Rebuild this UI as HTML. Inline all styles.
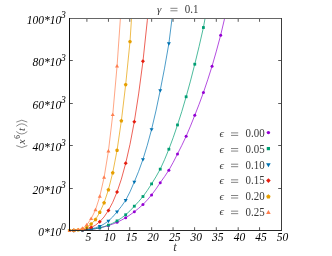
<!DOCTYPE html>
<html><head><meta charset="utf-8"><style>
html,body{margin:0;padding:0;background:#fff;}
svg{display:block;will-change:transform}
text{font-family:"Liberation Serif",serif;}
</style></head><body>
<svg width="332" height="256" viewBox="0 0 332 256">
<rect width="332" height="256" fill="#fff"/>
<g>
<path d="M69.55 230.49L73.87 230.45L78.19 230.33L82.50 230.13L86.82 229.81L91.14 229.35L95.46 228.72L99.78 227.90L104.09 226.87L108.41 225.60L112.73 224.08L117.05 222.27L121.37 220.16L125.68 217.71L130.00 214.92L134.32 211.76L138.64 208.33L142.96 204.54L147.27 199.99L151.59 194.92L155.91 189.12L160.23 182.69L164.55 176.64L168.86 170.16L173.18 162.37L177.50 153.92L181.82 145.39L186.14 136.28L190.45 126.15L194.77 115.33L199.09 104.28L203.41 92.57L207.73 79.77L212.04 66.21L216.36 51.14L220.68 35.14L224.58 18.50" fill="none" stroke="#9400d3" stroke-width="0.7"/>
<circle cx="73.87" cy="230.45" r="1.50" fill="#9400d3"/>
<circle cx="82.50" cy="230.13" r="1.50" fill="#9400d3"/>
<circle cx="91.14" cy="229.35" r="1.50" fill="#9400d3"/>
<circle cx="99.78" cy="227.90" r="1.50" fill="#9400d3"/>
<circle cx="108.41" cy="225.60" r="1.50" fill="#9400d3"/>
<circle cx="117.05" cy="222.27" r="1.50" fill="#9400d3"/>
<circle cx="125.68" cy="217.71" r="1.50" fill="#9400d3"/>
<circle cx="134.32" cy="211.76" r="1.50" fill="#9400d3"/>
<circle cx="142.96" cy="204.54" r="1.50" fill="#9400d3"/>
<circle cx="151.59" cy="194.92" r="1.50" fill="#9400d3"/>
<circle cx="160.23" cy="182.69" r="1.50" fill="#9400d3"/>
<circle cx="168.86" cy="170.16" r="1.50" fill="#9400d3"/>
<circle cx="177.50" cy="153.92" r="1.50" fill="#9400d3"/>
<circle cx="186.14" cy="136.28" r="1.50" fill="#9400d3"/>
<circle cx="194.77" cy="115.33" r="1.50" fill="#9400d3"/>
<circle cx="203.41" cy="92.57" r="1.50" fill="#9400d3"/>
<circle cx="212.04" cy="66.21" r="1.50" fill="#9400d3"/>
<circle cx="220.68" cy="35.14" r="1.50" fill="#9400d3"/>
<path d="M69.55 230.49L73.87 230.45L78.19 230.34L82.50 230.15L86.82 229.82L91.14 229.35L95.46 228.68L99.78 227.79L104.09 226.61L108.41 225.09L112.73 223.20L117.05 220.88L121.37 218.09L125.68 214.75L130.00 210.80L134.32 206.19L138.64 201.61L142.96 196.52L147.27 190.54L151.59 183.89L155.91 176.85L160.23 169.16L164.55 159.68L168.86 149.21L173.18 137.65L177.50 124.95L181.82 111.45L186.14 96.78L190.45 81.11L194.77 64.21L199.09 46.49L203.41 27.52L205.02 18.50" fill="none" stroke="#009e73" stroke-width="0.7"/>
<rect x="72.47" y="229.05" width="2.80" height="2.80" fill="#009e73"/>
<rect x="81.10" y="228.75" width="2.80" height="2.80" fill="#009e73"/>
<rect x="89.74" y="227.95" width="2.80" height="2.80" fill="#009e73"/>
<rect x="98.38" y="226.39" width="2.80" height="2.80" fill="#009e73"/>
<rect x="107.01" y="223.69" width="2.80" height="2.80" fill="#009e73"/>
<rect x="115.65" y="219.48" width="2.80" height="2.80" fill="#009e73"/>
<rect x="124.28" y="213.35" width="2.80" height="2.80" fill="#009e73"/>
<rect x="132.92" y="204.79" width="2.80" height="2.80" fill="#009e73"/>
<rect x="141.56" y="195.12" width="2.80" height="2.80" fill="#009e73"/>
<rect x="150.19" y="182.49" width="2.80" height="2.80" fill="#009e73"/>
<rect x="158.83" y="167.76" width="2.80" height="2.80" fill="#009e73"/>
<rect x="167.46" y="147.81" width="2.80" height="2.80" fill="#009e73"/>
<rect x="176.10" y="123.55" width="2.80" height="2.80" fill="#009e73"/>
<rect x="184.74" y="95.38" width="2.80" height="2.80" fill="#009e73"/>
<rect x="193.37" y="62.81" width="2.80" height="2.80" fill="#009e73"/>
<rect x="202.01" y="26.12" width="2.80" height="2.80" fill="#009e73"/>
<path d="M69.55 230.50L73.87 230.47L78.19 230.36L82.50 230.12L86.82 229.67L91.14 228.94L95.46 227.84L99.78 226.29L104.09 224.02L108.41 220.96L112.73 216.93L117.05 211.76L121.37 206.43L125.68 200.23L130.00 191.84L134.32 181.89L138.64 171.33L142.96 159.33L147.27 145.25L151.59 129.36L155.91 111.01L160.23 90.42L164.55 68.15L168.86 43.56L172.03 18.50" fill="none" stroke="#0072b2" stroke-width="0.7"/>
<path d="M71.87 229.27L75.87 229.27L73.87 232.67Z" fill="#0072b2"/>
<path d="M80.50 228.92L84.50 228.92L82.50 232.32Z" fill="#0072b2"/>
<path d="M89.14 227.74L93.14 227.74L91.14 231.14Z" fill="#0072b2"/>
<path d="M97.78 225.09L101.78 225.09L99.78 228.49Z" fill="#0072b2"/>
<path d="M106.41 219.76L110.41 219.76L108.41 223.16Z" fill="#0072b2"/>
<path d="M115.05 210.56L119.05 210.56L117.05 213.96Z" fill="#0072b2"/>
<path d="M123.68 199.03L127.68 199.03L125.68 202.43Z" fill="#0072b2"/>
<path d="M132.32 180.69L136.32 180.69L134.32 184.09Z" fill="#0072b2"/>
<path d="M140.96 158.13L144.96 158.13L142.96 161.53Z" fill="#0072b2"/>
<path d="M149.59 128.16L153.59 128.16L151.59 131.56Z" fill="#0072b2"/>
<path d="M158.23 89.22L162.23 89.22L160.23 92.62Z" fill="#0072b2"/>
<path d="M166.86 42.36L170.86 42.36L168.86 45.76Z" fill="#0072b2"/>
<path d="M69.55 230.49L73.87 230.43L78.19 230.24L82.50 229.78L86.82 228.92L91.14 227.49L95.46 225.16L99.78 221.68L104.09 216.91L108.41 210.45L112.73 202.31L117.05 192.01L121.37 179.12L125.68 163.34L130.00 144.32L134.32 121.64L138.64 93.94L142.96 61.30L147.27 20.77L147.49 18.50" fill="none" stroke="#e51e10" stroke-width="0.7"/>
<path d="M71.87 230.43L73.87 228.43L75.87 230.43L73.87 232.43Z" fill="#e51e10"/>
<path d="M80.50 229.78L82.50 227.78L84.50 229.78L82.50 231.78Z" fill="#e51e10"/>
<path d="M89.14 227.49L91.14 225.49L93.14 227.49L91.14 229.49Z" fill="#e51e10"/>
<path d="M97.78 221.68L99.78 219.68L101.78 221.68L99.78 223.68Z" fill="#e51e10"/>
<path d="M106.41 210.45L108.41 208.45L110.41 210.45L108.41 212.45Z" fill="#e51e10"/>
<path d="M115.05 192.01L117.05 190.01L119.05 192.01L117.05 194.01Z" fill="#e51e10"/>
<path d="M123.68 163.34L125.68 161.34L127.68 163.34L125.68 165.34Z" fill="#e51e10"/>
<path d="M132.32 121.64L134.32 119.64L136.32 121.64L134.32 123.64Z" fill="#e51e10"/>
<path d="M140.96 61.30L142.96 59.30L144.96 61.30L142.96 63.30Z" fill="#e51e10"/>
<path d="M69.55 230.48L73.87 230.35L78.19 229.96L82.50 229.10L86.82 227.49L91.14 224.08L95.46 219.62L99.78 212.36L104.09 202.83L108.41 189.80L112.73 172.76L117.05 150.31L121.37 120.84L125.68 84.66L130.00 41.65L131.50 18.50" fill="none" stroke="#e69f00" stroke-width="0.7"/>
<path d="M69.55 228.48L71.45 229.86L70.73 232.10L68.37 232.10L67.65 229.86Z" fill="#e69f00"/>
<path d="M73.87 228.35L75.77 229.73L75.04 231.97L72.69 231.97L71.97 229.73Z" fill="#e69f00"/>
<path d="M78.19 227.96L80.09 229.34L79.36 231.58L77.01 231.58L76.28 229.34Z" fill="#e69f00"/>
<path d="M82.50 227.10L84.41 228.48L83.68 230.72L81.33 230.72L80.60 228.48Z" fill="#e69f00"/>
<path d="M86.82 225.49L88.72 226.87L88.00 229.11L85.65 229.11L84.92 226.87Z" fill="#e69f00"/>
<path d="M91.14 222.08L93.04 223.47L92.32 225.70L89.96 225.70L89.24 223.47Z" fill="#e69f00"/>
<path d="M95.46 217.62L97.36 219.01L96.63 221.24L94.28 221.24L93.56 219.01Z" fill="#e69f00"/>
<path d="M99.78 210.36L101.68 211.74L100.95 213.98L98.60 213.98L97.87 211.74Z" fill="#e69f00"/>
<path d="M104.09 200.83L106.00 202.22L105.27 204.45L102.92 204.45L102.19 202.22Z" fill="#e69f00"/>
<path d="M108.41 187.80L110.31 189.19L109.59 191.42L107.24 191.42L106.51 189.19Z" fill="#e69f00"/>
<path d="M112.73 170.76L114.63 172.15L113.91 174.38L111.55 174.38L110.83 172.15Z" fill="#e69f00"/>
<path d="M117.05 148.31L118.95 149.69L118.22 151.93L115.87 151.93L115.15 149.69Z" fill="#e69f00"/>
<path d="M121.37 118.84L123.27 120.22L122.54 122.46L120.19 122.46L119.46 120.22Z" fill="#e69f00"/>
<path d="M125.68 82.66L127.59 84.04L126.86 86.27L124.51 86.27L123.78 84.04Z" fill="#e69f00"/>
<path d="M130.00 39.65L131.90 41.04L131.18 43.27L128.83 43.27L128.10 41.04Z" fill="#e69f00"/>
<path d="M69.55 230.49L73.87 230.36L78.19 229.84L82.50 228.50L86.82 224.89L91.14 218.77L95.46 210.00L99.78 196.52L104.09 177.47L108.41 151.21L112.73 114.83L117.05 66.21L120.38 18.50" fill="none" stroke="#ff7f50" stroke-width="0.7"/>
<path d="M67.55 231.69L71.55 231.69L69.55 228.29Z" fill="#ff7f50"/>
<path d="M71.87 231.56L75.87 231.56L73.87 228.16Z" fill="#ff7f50"/>
<path d="M76.19 231.04L80.19 231.04L78.19 227.64Z" fill="#ff7f50"/>
<path d="M80.50 229.70L84.50 229.70L82.50 226.30Z" fill="#ff7f50"/>
<path d="M84.82 226.09L88.82 226.09L86.82 222.69Z" fill="#ff7f50"/>
<path d="M89.14 219.97L93.14 219.97L91.14 216.57Z" fill="#ff7f50"/>
<path d="M93.46 211.20L97.46 211.20L95.46 207.80Z" fill="#ff7f50"/>
<path d="M97.78 197.72L101.78 197.72L99.78 194.32Z" fill="#ff7f50"/>
<path d="M102.09 178.67L106.09 178.67L104.09 175.27Z" fill="#ff7f50"/>
<path d="M106.41 152.41L110.41 152.41L108.41 149.01Z" fill="#ff7f50"/>
<path d="M110.73 116.03L114.73 116.03L112.73 112.63Z" fill="#ff7f50"/>
<path d="M115.05 67.41L119.05 67.41L117.05 64.01Z" fill="#ff7f50"/>
</g>
<g stroke="#000" stroke-width="0.65" fill="none">
<path d="M86.90 230.5v-3.3M86.90 18.5v3.3"/>
<path d="M108.45 230.5v-3.3M108.45 18.5v3.3"/>
<path d="M129.75 230.5v-3.3M129.75 18.5v3.3"/>
<path d="M151.65 230.5v-3.3M151.65 18.5v3.3"/>
<path d="M173.05 230.5v-3.3M173.05 18.5v3.3"/>
<path d="M194.60 230.5v-3.3M194.60 18.5v3.3"/>
<path d="M216.30 230.5v-3.3M216.30 18.5v3.3"/>
<path d="M238.20 230.5v-3.3M238.20 18.5v3.3"/>
<path d="M259.55 230.5v-3.3M259.55 18.5v3.3"/>
<path d="M69.5 188.50h3.3M281.5 188.50h-3.3"/>
<path d="M69.5 145.50h3.3M281.5 145.50h-3.3"/>
<path d="M69.5 103.50h3.3M281.5 103.50h-3.3"/>
<path d="M69.5 60.50h3.3M281.5 60.50h-3.3"/>
</g>
<g stroke-width="1" fill="none">
<path d="M69.0 18.5H282.0" stroke="#666"/>
<path d="M281.5 18.0V231.0" stroke="#3c3c3c"/>
<path d="M69.0 230.5H282.0" stroke="#2a2a2a"/>
<path d="M69.5 18.0V231.0" stroke="#111"/>
</g>
<g font-size="11.5" font-style="italic" fill="#000">
<text x="88.27" y="241.2" text-anchor="middle">5</text>
<text x="109.86" y="241.2" text-anchor="middle">10</text>
<text x="131.45" y="241.2" text-anchor="middle">15</text>
<text x="153.04" y="241.2" text-anchor="middle">20</text>
<text x="174.63" y="241.2" text-anchor="middle">25</text>
<text x="196.22" y="241.2" text-anchor="middle">30</text>
<text x="217.81" y="241.2" text-anchor="middle">35</text>
<text x="239.40" y="241.2" text-anchor="middle">40</text>
<text x="260.99" y="241.2" text-anchor="middle">45</text>
<text x="282.58" y="241.2" text-anchor="middle">50</text>
<text x="61.2" y="235.90" text-anchor="end">0*10</text><text x="61.0" y="230.30" font-size="9.6">0</text>
<text x="61.2" y="193.50" text-anchor="end">20*10</text><text x="61.0" y="187.90" font-size="9.6">3</text>
<text x="61.2" y="151.10" text-anchor="end">40*10</text><text x="61.0" y="145.50" font-size="9.6">3</text>
<text x="61.2" y="108.70" text-anchor="end">60*10</text><text x="61.0" y="103.10" font-size="9.6">3</text>
<text x="61.2" y="66.30" text-anchor="end">80*10</text><text x="61.0" y="60.70" font-size="9.6">3</text>
<text x="61.2" y="23.90" text-anchor="end">100*10</text><text x="61.0" y="18.30" font-size="9.6">3</text>
</g>
<g font-size="11" fill="#3a3a3a">
<text x="157" y="12.6" font-style="italic">γ</text><path d="M170.4 8.3h7.1M170.4 10.8h7.1" stroke="#333" stroke-width="0.6"/><text x="184.7" y="12.8" font-size="11.7" textLength="13.7" lengthAdjust="spacingAndGlyphs">0.1</text>
<text x="173.2" y="251.4" font-style="italic" font-size="12.5">t</text>
<text x="219.6" y="137.20" font-style="italic">ϵ</text><path d="M231 132.90h7.2M231 135.40h7.2" stroke="#333" stroke-width="0.6"/><text x="245.6" y="137.30" font-size="11.7" textLength="19.1" lengthAdjust="spacingAndGlyphs">0.00</text>
<circle cx="268.40" cy="132.60" r="1.72" fill="#9400d3"/>
<text x="219.6" y="152.85" font-style="italic">ϵ</text><path d="M231 148.55h7.2M231 151.05h7.2" stroke="#333" stroke-width="0.6"/><text x="245.6" y="152.95" font-size="11.7" textLength="19.1" lengthAdjust="spacingAndGlyphs">0.05</text>
<rect x="266.79" y="146.99" width="3.22" height="3.22" fill="#009e73"/>
<text x="219.6" y="168.50" font-style="italic">ϵ</text><path d="M231 164.20h7.2M231 166.70h7.2" stroke="#333" stroke-width="0.6"/><text x="245.6" y="168.60" font-size="11.7" textLength="19.1" lengthAdjust="spacingAndGlyphs">0.10</text>
<path d="M266.10 163.22L270.70 163.22L268.40 167.13Z" fill="#0072b2"/>
<text x="219.6" y="184.15" font-style="italic">ϵ</text><path d="M231 179.85h7.2M231 182.35h7.2" stroke="#333" stroke-width="0.6"/><text x="245.6" y="184.25" font-size="11.7" textLength="19.1" lengthAdjust="spacingAndGlyphs">0.15</text>
<path d="M266.10 180.60L268.40 178.30L270.70 180.60L268.40 182.90Z" fill="#e51e10"/>
<text x="219.6" y="199.80" font-style="italic">ϵ</text><path d="M231 195.50h7.2M231 198.00h7.2" stroke="#333" stroke-width="0.6"/><text x="245.6" y="199.90" font-size="11.7" textLength="19.1" lengthAdjust="spacingAndGlyphs">0.20</text>
<path d="M268.40 194.30L270.59 195.89L269.75 198.46L267.05 198.46L266.21 195.89Z" fill="#e69f00"/>
<text x="219.6" y="215.45" font-style="italic">ϵ</text><path d="M231 211.15h7.2M231 213.65h7.2" stroke="#333" stroke-width="0.6"/><text x="245.6" y="215.55" font-size="11.7" textLength="19.1" lengthAdjust="spacingAndGlyphs">0.25</text>
<path d="M266.10 213.98L270.70 213.98L268.40 210.07Z" fill="#ff7f50"/>
<g transform="translate(24.8 148.5) rotate(-90)" font-size="11">
<g fill="none" stroke="#3a3a3a" stroke-width="0.6">
<path d="M2.9 -8.5L1.0 -3L2.9 2.5"/>
<path d="M17.0 -8.5Q12.0 -3 17.0 2.5"/>
<path d="M22.2 -8.5Q27.2 -3 22.2 2.5"/>
<path d="M26.4 -8.5L28.3 -3L26.4 2.5"/>
</g>
<text x="4.2" y="0" font-style="italic">x</text><text x="9.7" y="-4.6" font-size="7.3" fill="#222">6</text>
<text x="17.6" y="0" font-style="italic">t</text>
</g>
</g>
</svg>
</body></html>
